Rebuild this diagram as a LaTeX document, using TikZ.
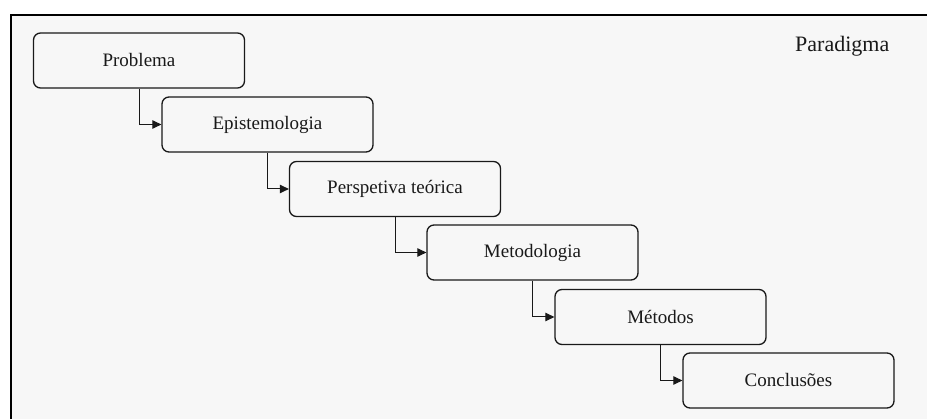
\documentclass[tikz,border=0pt]{standalone}
\usepackage{fontspec}
\setmainfont{Liberation Serif}
\usetikzlibrary{arrows.meta}
\definecolor{panel}{RGB}{247,247,247}
\definecolor{ink}{RGB}{25,25,25}
\tikzset{
  stagebox/.style={draw=ink, line width=1.3pt, rounded corners=7pt, fill=panel,
    minimum width=211pt, minimum height=55pt, inner sep=0pt,
    font=\fontsize{19}{22}\selectfont, text=ink},
  flow/.style={draw=ink, line width=1pt, -{Triangle[length=9pt,width=8.5pt]}},
}
\begin{document}
\begin{tikzpicture}[x=1pt,y=-1pt]
\useasboundingbox (0,0) rectangle (927,419);
% outer panel, open towards the right and bottom
\fill[panel] (11,15) rectangle (940,430);
\draw[line width=2pt, black] (11,430) -- (11,15) -- (940,15);
\node[anchor=base west, inner sep=0pt, font=\fontsize{22}{26}\selectfont, text=ink] (title) at (795,51.7) {Paradigma};
% the chain of stages
\node[stagebox] (s1) at (139,60.5)   {Problema};
\node[stagebox] (s2) at (267.5,124.5) {Epistemologia};
\node[stagebox] (s3) at (395,189)    {Perspetiva teórica};
\node[stagebox] (s4) at (532.5,252.5) {Metodologia};
\node[stagebox] (s5) at (660.5,317)  {Métodos};
\node[stagebox] (s6) at (788.5,380.5) {Conclusões};
\foreach \a/\b in {s1/s2, s2/s3, s3/s4, s4/s5, s5/s6}
  \draw[flow] (\a.south) |- (\b.west);
\end{tikzpicture}
\end{document}
